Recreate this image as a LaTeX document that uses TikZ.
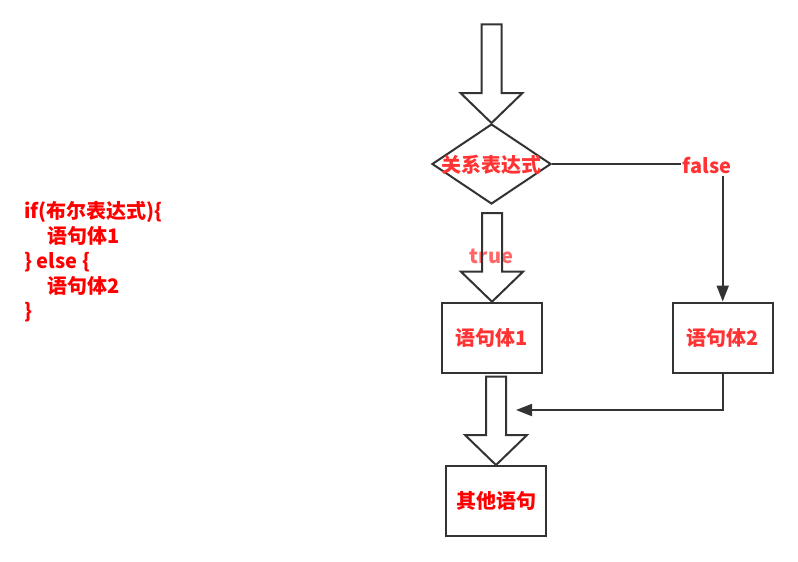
\documentclass[tikz,border=0pt]{standalone}
\usepackage{fontspec}
\setmainfont{Noto Sans CJK SC}
\usetikzlibrary{arrows.meta,shapes.geometric,calc}
\definecolor{flowline}{RGB}{51,51,51}
\definecolor{textred}{RGB}{255,51,51}
\definecolor{purered}{RGB}{255,0,0}
\definecolor{truered}{RGB}{255,102,102}
\tikzset{
  flowtext/.style={font=\fontsize{15}{18.75}\selectfont\bfseries},
  stmtbox/.style={draw=flowline,line width=1.5pt,minimum width=75pt,minimum height=52.5pt,inner sep=0pt,flowtext,text=textred},
  decision/.style={diamond,draw=flowline,line width=1.5pt,minimum width=89.25pt,minimum height=60pt,inner sep=0pt},
  flow/.style={draw=flowline,line width=1.5pt,-{Triangle[length=12pt,width=9pt]}},
  hollow/.style={draw=flowline,line width=1.5pt,fill=white,line join=miter}
}
% hollow block arrow from the first node/coordinate down to the second, #3 = gap at its top
\newcommand{\hollowarrow}[3]{%
  \draw[hollow] let \p1=(#1), \p2=(#2) in
    (\x2-7.5pt,\y1-#3) -- (\x2+7.5pt,\y1-#3) -- (\x2+7.5pt,\y2+22.5pt)
    -- (\x2+23.25pt,\y2+22.5pt) -- (\x2,\y2) -- (\x2-23.25pt,\y2+22.5pt)
    -- (\x2-7.5pt,\y2+22.5pt) -- cycle;%
}

\begin{document}
\begin{tikzpicture}[x=0.75pt,y=-0.75pt]
  \useasboundingbox (0,0) rectangle (798,561);

  % code on the left
  \node[flowtext,text=purered,align=left,anchor=north west,inner sep=0pt] (code) at (24,201)
    {if(布尔表达式)\{\\\hspace*{1.18em}语句体1\\\} else \{\\\hspace*{1.18em}语句体2\\\}};

  % flow chart
  \coordinate (start) at (491.7,24.3);
  \node[decision,label={[flowtext,text=textred,yshift=-0.75pt]center:关系表达式}] (cond) at (491.5,164) {};
  \node[stmtbox] (body1) at (492,337.7) {语句体1};
  \node[stmtbox] (body2) at (722.7,337.5) {语句体2};
  \node[stmtbox,text=purered] (other) at (496,501) {其他语句};
  \coordinate (merge) at (516,410);

  \hollowarrow{start}{cond.north}{0pt}
  \hollowarrow{cond.south}{body1.north}{6pt}
  \node[flowtext,text=truered] (truelbl) at (491.5,256) {true};
  \draw[hollow,fill=none] let \p1=(cond.south), \p2=(body1.north) in
    (\x2-7.5pt,\y1-6pt) -- (\x2-7.5pt,\y2+22.5pt) (\x2+7.5pt,\y1-6pt) -- (\x2+7.5pt,\y2+22.5pt);
  \hollowarrow{body1.south}{other.north}{2.25pt}

  \draw[flow] (cond.east) -| (body2.north)
    node[flowtext,text=textred,fill=white,inner sep=1pt] (falselbl) at (707,166) {false};
  \draw[flow] (body2.south) |- (merge);
\end{tikzpicture}
\end{document}
